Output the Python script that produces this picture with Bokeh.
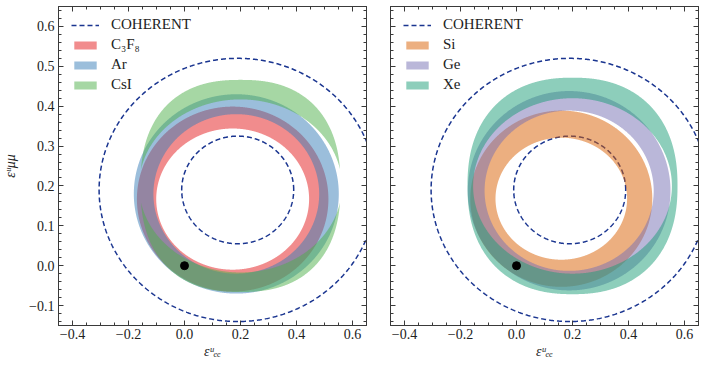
import numpy as np
from bokeh.plotting import figure
from bokeh.models import (FixedTicker, LinearAxis, CustomJSTickFormatter, Legend,
                          LegendItem, Range1d)
from bokeh.layouts import row
from bokeh.embed import file_html
from bokeh.resources import INLINE

# ---------------- data ----------------
X_RANGE = [-0.45, 0.65]
Y_RANGE = [-0.15, 0.65]
x_ticks = [-0.4, -0.2, 0.0, 0.2, 0.4, 0.6]
x_tick_labels = ["\u22120.4", "\u22120.2", "0.0", "0.2", "0.4", "0.6"]
y_ticks = [-0.1, 0.0, 0.1, 0.2, 0.3, 0.4, 0.5, 0.6]
y_tick_labels = ["\u22120.1", "0.0", "0.1", "0.2", "0.3", "0.4", "0.5", "0.6"]
x_label = "\u03b5\u1d58\u2091\u2091"      # epsilon^u_ee
y_label = "\u03b5\u1d58\u03bc\u03bc"      # epsilon^u_mumu

coherent_label = "COHERENT"
coherent_cx = [0.19, 0.19]
coherent_cy = [0.19, 0.19]
coherent_ax = [0.495, 0.200]
coherent_ay = [0.330, 0.135]

sm_x = [0.0]
sm_y = [0.0]

left_names = ["C\u2083F\u2088", "Ar", "CsI"]
left_colors = ["#e41a1c", "#377eb8", "#4daf4a"]
left_cx = [0.172, 0.185, 0.200]
left_cy = [0.167, 0.180, 0.200]
left_out_ax = [0.342, 0.366, 0.357]
left_out_ay = [0.232, 0.250, 0.266]
left_out_p = [2.0, 2.0, 2.4]
left_in_ax = [0.273, 0.296, 0.362]
left_in_ay = [0.177, 0.200, 0.217]
left_in_p = [2.0, 2.0, 2.0]

right_names = ["Si", "Ge", "Xe"]
right_colors = ["#d95f02", "#7570b3", "#1b9e77"]
right_cx = [0.160, 0.188, 0.200]
right_cy = [0.168, 0.188, 0.200]
right_out_ax = [0.325, 0.362, 0.375]
right_out_ay = [0.221, 0.250, 0.2715]
right_out_p = [2.0, 2.0, 2.3]
right_in_ax = [0.235, 0.302, 0.355]
right_in_ay = [0.153, 0.201, 0.220]
right_in_p = [2.0, 2.0, 2.0]

# ---------------- styling ----------------
AX_COLOR = "#3a3a3a"
TXT_COLOR = "#222222"
FONT = "Liberation Serif"
DASH_COLOR = "#1a3590"

TH = np.linspace(0.0, 2 * np.pi, 1441)[:-1]
COS, SIN = np.cos(TH), np.sin(TH)


def superellipse_r(ax, ay, p):
    return 1.0 / ((np.abs(COS) / ax) ** p + (np.abs(SIN) / ay) ** p) ** (1.0 / p)


def band_shape(cx, cy, oa, ob, op, ia, ib, ip):
    ro = superellipse_r(oa, ob, op)
    ri = superellipse_r(ia, ib, ip)
    ox, oy = cx + ro * COS, cy + ro * SIN
    ix, iy = cx + ri * COS, cy + ri * SIN
    inside = ri < ro
    if inside.all():
        return ([[ox.tolist(), ix[::-1].tolist()]],
                [[oy.tolist(), iy[::-1].tolist()]])
    m = len(TH)
    start = int(np.argmin(inside))
    order = list(np.roll(np.arange(m), -start)) + [start]
    pxs, pys, run = [], [], []
    for k in order:
        if inside[k]:
            run.append(k)
        elif run:
            r = np.array(run)
            pxs.append([np.concatenate([ox[r], ix[r][::-1]]).tolist()])
            pys.append([np.concatenate([oy[r], iy[r][::-1]]).tolist()])
            run = []
    return pxs, pys


def ellipse_line(cx, cy, ax, ay):
    t = np.linspace(0, 2 * np.pi, 721)
    return (cx + ax * np.cos(t)).tolist(), (cy + ay * np.sin(t)).tolist()


def fmt(vals, texts):
    return CustomJSTickFormatter(args=dict(tvals=vals, ttexts=texts), code="""
        for (let i = 0; i < tvals.length; i++) {
            if (Math.abs(tvals[i] - tick) < 1e-9) { return ttexts[i]; }
        }
        return '';
    """)


def blank_fmt():
    return CustomJSTickFormatter(code="return '';")


x_minor = np.round(np.arange(-0.45, 0.6501, 0.05), 3).tolist()
y_minor = np.round(np.arange(-0.14, 0.6401, 0.02), 3).tolist()


def style_axis(ax, vals, minor, texts=None):
    ax.ticker = FixedTicker(ticks=vals, minor_ticks=minor)
    ax.major_tick_in = 5
    ax.major_tick_out = 0
    ax.minor_tick_in = 3
    ax.minor_tick_out = 0
    ax.axis_line_color = AX_COLOR
    ax.major_tick_line_color = AX_COLOR
    ax.minor_tick_line_color = AX_COLOR
    ax.major_label_text_font = FONT
    ax.major_label_text_color = TXT_COLOR
    ax.axis_label_text_font = FONT
    ax.axis_label_text_font_style = "italic"
    ax.axis_label_text_font_size = "14px"
    ax.axis_label_text_color = TXT_COLOR
    if texts is None:
        ax.formatter = blank_fmt()
        ax.major_label_text_font_size = "0px"
        ax.major_label_standoff = 0
    else:
        ax.formatter = fmt(vals, texts)
        ax.major_label_text_font_size = "14px"


def make_panel(names, colors, cx, cy, oa, ob, op, ia, ib, ip, width, left_border,
               right_border, with_ylabels):
    p = figure(width=width, height=363,
               x_range=Range1d(*X_RANGE), y_range=Range1d(*Y_RANGE),
               min_border_left=left_border, min_border_right=right_border,
               min_border_top=6, min_border_bottom=38,
               toolbar_location=None, output_backend="svg",
               x_axis_type=None, y_axis_type=None)
    p.grid.visible = False
    p.outline_line_color = AX_COLOR
    p.background_fill_color = "white"
    p.border_fill_color = "white"

    bottom = LinearAxis(axis_label=x_label)
    style_axis(bottom, x_ticks, x_minor, x_tick_labels)
    bottom.major_label_standoff = 3
    bottom.axis_label_standoff = 2
    p.add_layout(bottom, "below")
    top = LinearAxis()
    style_axis(top, x_ticks, x_minor)
    p.add_layout(top, "above")
    left = LinearAxis()
    style_axis(left, y_ticks, y_minor, y_tick_labels if with_ylabels else None)
    if with_ylabels:
        left.major_label_standoff = 4
        left.axis_label = y_label
        left.axis_label_standoff = 8
    p.add_layout(left, "left")
    right = LinearAxis()
    style_axis(right, y_ticks, y_minor)
    p.add_layout(right, "right")

    xs, ys = [], []
    for i in range(len(coherent_cx)):
        ex, ey = ellipse_line(coherent_cx[i], coherent_cy[i], coherent_ax[i], coherent_ay[i])
        xs.append(ex)
        ys.append(ey)
    coh = p.multi_line(xs=xs, ys=ys, line_color=DASH_COLOR, line_width=1.5,
                       line_dash="5 3")
    items = [LegendItem(label=coherent_label, renderers=[coh])]

    for i in range(len(names)):
        bx, by = band_shape(cx[i], cy[i], oa[i], ob[i], op[i], ia[i], ib[i], ip[i])
        r = p.multi_polygons(xs=[bx], ys=[by], fill_color=colors[i], fill_alpha=0.5,
                             line_color=None)
        items.append(LegendItem(label=names[i], renderers=[r]))

    p.scatter(x=sm_x, y=sm_y, size=8, fill_color="black", line_color="black")

    legend = Legend(items=items, location=(13, 232))
    legend.glyph_width = 28
    legend.glyph_height = 10
    legend.label_height = 17
    legend.spacing = 3
    legend.padding = 0
    legend.margin = 0
    legend.label_standoff = 12
    legend.border_line_color = None
    legend.background_fill_alpha = 0
    legend.label_text_font = FONT
    legend.label_text_font_size = "15px"
    legend.label_text_color = TXT_COLOR
    p.add_layout(legend)
    return p


p1 = make_panel(left_names, left_colors, left_cx, left_cy, left_out_ax, left_out_ay,
                left_out_p, left_in_ax, left_in_ay, left_in_p, 374, 58, 8, True)
p2 = make_panel(right_names, right_colors, right_cx, right_cy, right_out_ax, right_out_ay,
                right_out_p, right_in_ax, right_in_ay, right_in_p, 330, 16, 6, False)

layout = row(p1, p2)
open("out.html", "w").write(file_html(layout, INLINE))
